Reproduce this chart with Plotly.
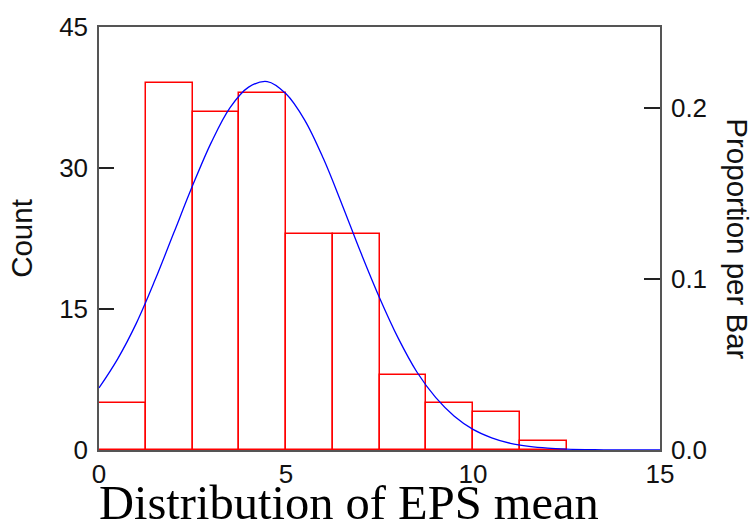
import plotly.graph_objects as go

# Histogram data (bin edges every 1.25)
bin_left = [0.0, 1.25, 2.5, 3.75, 5.0, 6.25, 7.5, 8.75, 10.0, 11.25]
bin_width = 1.25
counts = [5, 39, 36, 38, 23, 23, 8, 5, 4, 1]

# Fitted normal curve (count scale)
curve_x = [0, 0.5, 1.0, 1.5, 2.0, 2.5, 3.0, 3.5, 4.0, 4.5, 5.0, 5.5, 6.0, 6.5,
           7.0, 7.5, 8.0, 8.5, 9.0, 9.5, 10.0, 10.5, 11.0, 11.5, 12.0, 12.5,
           13.0, 13.5, 14.0, 15.0]
curve_y = [6.6, 9.7, 13.5, 18.1, 23.1, 28.1, 32.7, 36.4, 38.6, 39.2, 37.9, 35.1,
           31.0, 26.1, 21.0, 16.2, 11.9, 8.3, 5.6, 3.6, 2.2, 1.3, 0.71, 0.38,
           0.19, 0.09, 0.04, 0.02, 0.01, 0.0]

left_ticks = [0, 15, 30, 45]
right_ticks = [0.0, 0.1, 0.2]
x_ticks = [0, 5, 10, 15]
total = sum(counts)

bar_centers = [b + bin_width / 2 for b in bin_left]

fig = go.Figure()
fig.add_trace(go.Bar(
    x=bar_centers, y=counts, width=[bin_width] * len(counts),
    marker=dict(color="rgba(255,255,255,0)", line=dict(color="#ff0000", width=1.5)),
    showlegend=False, hoverinfo="skip",
))
fig.add_trace(go.Scatter(
    x=curve_x, y=curve_y, mode="lines", line=dict(color="#0000ff", width=1.3, shape="spline"),
    showlegend=False,
))
# invisible trace to activate right axis
fig.add_trace(go.Scatter(x=[0], y=[0], yaxis="y2", mode="markers",
                         marker=dict(opacity=0), showlegend=False, hoverinfo="skip"))

tickfont = dict(family="Liberation Sans, Arial", size=26, color="#111")
titlefont = dict(family="Liberation Sans, Arial", size=29.5, color="#111")
axcol = "#555"

fig.update_layout(
    width=753, height=532,
    margin=dict(l=99, r=93, t=20, b=82),
    paper_bgcolor="white", plot_bgcolor="white",
    bargap=0,
    xaxis=dict(range=[0, 15], tickvals=x_ticks, ticks="", showgrid=False, zeroline=False,
               showline=True, mirror=True, linecolor=axcol, linewidth=1.5,
               layer="below traces", tickfont=tickfont, ticklabelstandoff=0),
    yaxis=dict(range=[0, 45], tickvals=left_ticks, ticks="inside", ticklen=15,
               tickcolor="#222", tickwidth=1.5, showgrid=False, zeroline=False,
               showline=True, linecolor=axcol, linewidth=1.5, tickfont=tickfont,
               ticklabelstandoff=4,
               title=dict(text="Count", font=titlefont, standoff=18)),
    yaxis2=dict(range=[0, 45 / total], tickvals=right_ticks, tickformat=".1f",
                overlaying="y", side="right", ticks="inside", ticklen=16,
                tickcolor="#222", tickwidth=1.5, showgrid=False, zeroline=False,
                showline=True, linecolor=axcol, linewidth=1.5, tickfont=tickfont,
                ticklabelstandoff=4),
    annotations=[
        dict(text="Distribution of EPS mean", xref="paper", yref="paper",
             x=0.0, y=-0.1907, xanchor="left", yanchor="bottom", showarrow=False,
             xshift=-2,
             font=dict(family="Liberation Serif, Times New Roman", size=48.5, color="#000")),
        dict(text="Proportion per Bar", xref="paper", yref="paper",
             x=1.139, y=0.498, xanchor="center", yanchor="middle", showarrow=False,
             textangle=90, font=titlefont),
    ],
)

fig.write_html("out.html")
